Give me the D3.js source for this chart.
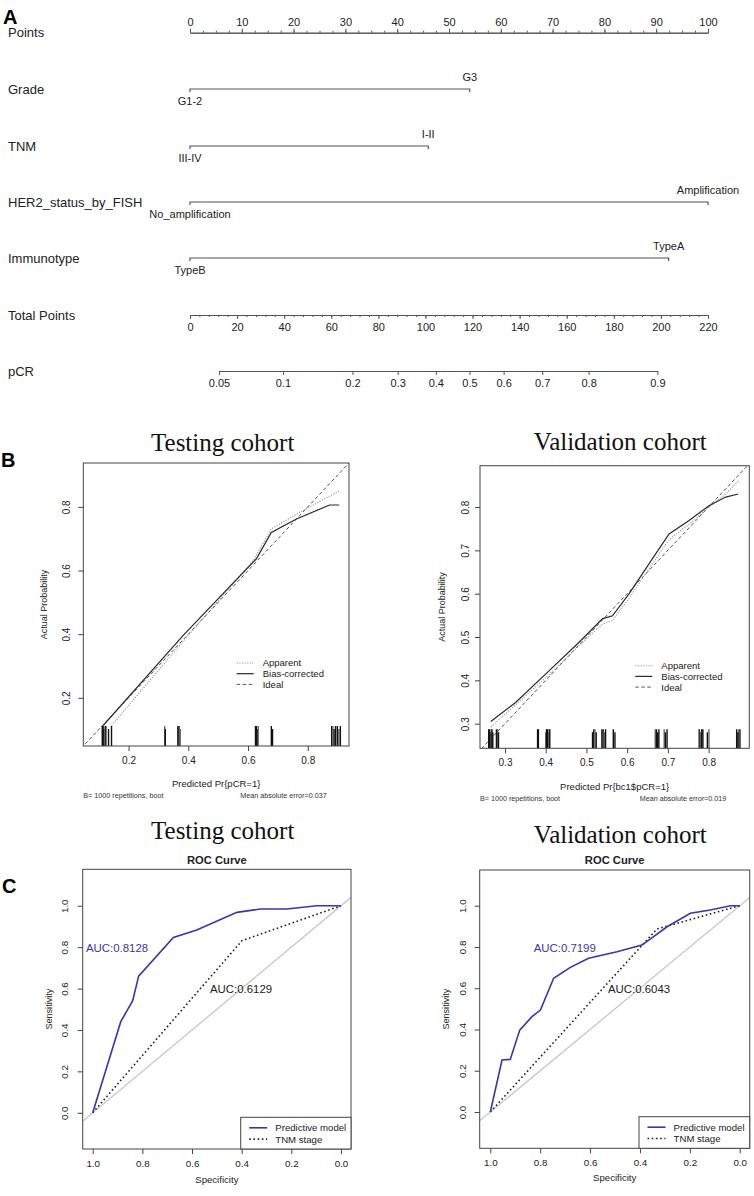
<!DOCTYPE html>
<html>
<head>
<meta charset="utf-8">
<script src="https://cdn.jsdelivr.net/npm/d3@7"></script>
<style>
body { margin: 0; background: #fff; }
svg { display: block; font-family: "Liberation Sans", Arial, sans-serif; }
</style>
</head>
<body>
<svg id="fig" width="754" height="1196"></svg>
<script>
// ---------- A: nomogram ----------
var pointTicks = [0, 10, 20, 30, 40, 50, 60, 70, 80, 90, 100];
var totalTicks = [0, 20, 40, 60, 80, 100, 120, 140, 160, 180, 200, 220];
var pcrTicks = [0.05, 0.1, 0.2, 0.3, 0.4, 0.5, 0.6, 0.7, 0.8, 0.9];
var pcrTotals = [12.3, 39.5, 69.0, 88.2, 104.4, 118.7, 133.2, 149.6, 169.3, 198.5]; // total points of each pCR tick
var nomoVars = ["Grade", "TNM", "HER2_status_by_FISH", "Immunotype"];
var lowLevels = ["G1-2", "III-IV", "No_amplification", "TypeB"];
var highLevels = ["G3", "I-II", "Amplification", "TypeA"];
var highPoints = [54, 46, 100, 92.4];

// ---------- B: calibration ----------
var testRug = [0.112, 0.115, 0.118, 0.121, 0.124, 0.133, 0.143, 0.321, 0.323, 0.365, 0.369, 0.373,
  0.625, 0.628, 0.631, 0.634, 0.678, 0.682, 0.880, 0.884, 0.888, 0.893, 0.899, 0.904, 0.909];
var testApparentX = [0.143, 0.400, 0.617, 0.678, 0.773, 0.907];
var testApparentY = [0.113, 0.396, 0.631, 0.731, 0.783, 0.851];
var testBiasX = [0.115, 0.383, 0.628, 0.678, 0.762, 0.873, 0.905];
var testBiasY = [0.113, 0.396, 0.637, 0.720, 0.762, 0.806, 0.806];

var valRug = [0.260, 0.262, 0.264, 0.266, 0.268, 0.270, 0.279, 0.282, 0.284, 0.380, 0.382,
  0.400, 0.402, 0.404, 0.406, 0.408, 0.410, 0.515, 0.518, 0.521, 0.524, 0.538, 0.541, 0.544, 0.547,
  0.566, 0.570, 0.669, 0.672, 0.675, 0.678, 0.691, 0.694, 0.698, 0.777, 0.780, 0.783, 0.786,
  0.797, 0.801, 0.869, 0.872, 0.875, 0.878];
var valApparentX = [0.265, 0.408, 0.482, 0.539, 0.564, 0.605, 0.670, 0.703, 0.752, 0.801, 0.842, 0.875];
var valApparentY = [0.292, 0.413, 0.480, 0.530, 0.538, 0.590, 0.680, 0.725, 0.760, 0.800, 0.830, 0.862];
var valBiasX = [0.265, 0.326, 0.408, 0.482, 0.539, 0.564, 0.605, 0.670, 0.703, 0.752, 0.801, 0.842, 0.873];
var valBiasY = [0.305, 0.349, 0.422, 0.488, 0.542, 0.549, 0.600, 0.692, 0.738, 0.769, 0.803, 0.823, 0.830];

// ---------- C: ROC ----------
var testModelSpec = [1, 0.887, 0.839, 0.815, 0.675, 0.581, 0.419, 0.325, 0.218, 0.097, 0];
var testModelSens = [0, 0.44, 0.541, 0.66, 0.847, 0.883, 0.968, 0.984, 0.984, 1, 1];
var testTnmSpec = [1, 0.399, 0];
var testTnmSens = [0, 0.831, 1];
var valModelSpec = [1, 0.953, 0.92, 0.882, 0.833, 0.799, 0.746, 0.679, 0.606, 0.492, 0.392, 0.291, 0.198, 0.118, 0.037, 0];
var valModelSens = [0, 0.252, 0.255, 0.397, 0.462, 0.494, 0.648, 0.701, 0.745, 0.777, 0.809, 0.898, 0.963, 0.979, 1, 1];
var valTnmSpec = [1, 0.332, 0];
var valTnmSens = [0, 0.887, 1];

var svg = d3.select("#fig");
var blue = "#3636b4";

// panel letters
svg.selectAll("text.panel")
  .data([["A", 3, 24], ["B", 1, 467], ["C", 2, 893]])
  .enter().append("text")
  .attr("x", function(d) { return d[1]; })
  .attr("y", function(d) { return d[2]; })
  .attr("font-size", 20).attr("font-weight", "bold")
  .text(function(d) { return d[0]; });

// ---------- nomogram ----------
var ptsX = d3.scaleLinear().domain([0, 100]).range([190, 708]);
var totX = d3.scaleLinear().domain([0, 220]).range([190, 708]);
var pcrX = d3.scaleLinear().domain(pcrTicks).range(pcrTotals.map(totX));
var rowY = [32.7, 89, 146, 202, 258, 315, 371];
var rowNames = ["Points"].concat(nomoVars, ["Total Points", "pCR"]);
var nomo = svg.append("g").attr("fill", "#222");

nomo.selectAll("text.row")
  .data(rowNames)
  .enter().append("text")
  .attr("x", 8)
  .attr("y", function(d, i) { return rowY[i] + 4.5; })
  .attr("font-size", 13)
  .text(function(d) { return d; });

function styleAxis(g, fs) {
  g.attr("font-family", null).attr("font-size", fs);
  g.selectAll("path,line").attr("stroke", "#555");
  g.selectAll("text").attr("fill", "#222");
}

nomo.append("g").attr("transform", "translate(0," + rowY[0] + ")")
  .call(d3.axisTop(ptsX).tickValues(d3.range(0, 100.1, 2.5)).tickSize(2).tickSizeOuter(0).tickFormat(""))
  .call(styleAxis, 11);
nomo.append("g").attr("transform", "translate(0," + rowY[0] + ")")
  .call(d3.axisTop(ptsX).tickValues(pointTicks).tickSize(4).tickSizeOuter(0).tickPadding(3))
  .call(styleAxis, 11);

nomoVars.forEach(function(v, i) {
  var y = rowY[i + 1];
  var g = nomo.append("g");
  g.append("path")
    .attr("d", "M" + ptsX(0) + "," + (y + 3) + "V" + y + "H" + ptsX(highPoints[i]) + "V" + (y + 3))
    .attr("fill", "none").attr("stroke", "#555").attr("stroke-width", 1.2);
  g.append("text").attr("x", ptsX(0)).attr("y", y + 16).attr("text-anchor", "middle")
    .attr("font-size", 11).text(lowLevels[i]);
  g.append("text").attr("x", ptsX(highPoints[i])).attr("y", y - 8).attr("text-anchor", "middle")
    .attr("font-size", 11).text(highLevels[i]);
});

nomo.append("g").attr("transform", "translate(0," + rowY[5] + ")")
  .call(d3.axisBottom(totX).tickValues(d3.range(0, 220.1, 4)).tickSize(2).tickSizeOuter(0).tickFormat(""))
  .call(styleAxis, 11);
nomo.append("g").attr("transform", "translate(0," + rowY[5] + ")")
  .call(d3.axisBottom(totX).tickValues(totalTicks).tickSize(4).tickSizeOuter(0).tickPadding(4))
  .call(styleAxis, 11);

nomo.append("g").attr("transform", "translate(0," + rowY[6] + ")")
  .call(d3.axisBottom(pcrX).tickValues(pcrTicks).tickSize(4).tickSizeOuter(0).tickPadding(4)
    .tickFormat(function(d) { return String(d); }))
  .call(styleAxis, 11);

// ---------- helpers for framed R-style plots ----------
function frame(o) {
  var g = svg.append("g");
  var x = d3.scaleLinear().domain(o.xDomain).range([o.left, o.right]);
  var y = d3.scaleLinear().domain(o.yDomain).range([o.bottom, o.top]);
  var id = "clip" + Math.round(o.left) + "_" + Math.round(o.top);
  g.append("clipPath").attr("id", id).append("rect")
    .attr("x", o.left).attr("y", o.top).attr("width", o.right - o.left).attr("height", o.bottom - o.top);

  var ax = g.append("g").attr("transform", "translate(0," + o.bottom + ")")
    .call(d3.axisBottom(x).tickValues(o.xTicks).tickSize(5).tickSizeOuter(0).tickPadding(6)
      .tickFormat(d3.format(".1f")));
  ax.select(".domain").remove();
  ax.attr("font-family", null).attr("font-size", o.tickFs);
  ax.selectAll("line").attr("stroke", "#444");
  ax.selectAll("text").attr("fill", "#222").attr("dy", "0.71em");

  var ay = g.append("g").attr("transform", "translate(" + o.left + ",0)")
    .call(d3.axisLeft(y).tickValues(o.yTicks).tickSize(5).tickSizeOuter(0)
      .tickFormat(d3.format(".1f")));
  ay.select(".domain").remove();
  ay.attr("font-family", null).attr("font-size", o.tickFs);
  ay.selectAll("line").attr("stroke", "#444");
  ay.selectAll("text").attr("fill", "#222")
    .attr("x", 0).attr("y", -(o.left - o.yLabX)).attr("dy", "0.35em")
    .attr("text-anchor", "middle").attr("transform", "rotate(-90)");

  g.append("text").attr("x", o.titleX).attr("y", o.titleY).attr("text-anchor", "middle")
    .attr("font-family", "'Liberation Serif', 'Times New Roman', serif").attr("font-size", 25)
    .attr("fill", "#111").text(o.title);

  g.append("text").attr("x", (o.left + o.right) / 2).attr("y", o.xTitleY).attr("text-anchor", "middle")
    .attr("font-size", o.axisFs).attr("fill", "#222").text(o.xTitle);
  g.append("text").attr("transform", "translate(" + o.yTitleX + "," + (o.top + o.bottom) / 2 + ") rotate(-90)")
    .attr("text-anchor", "middle").attr("font-size", o.axisFs - 0.5).attr("fill", "#222").text(o.yTitle);

  var inner = g.append("g").attr("clip-path", "url(#" + id + ")");
  return { g: g, inner: inner, x: x, y: y, o: o };
}

function drawBox(f) {
  var o = f.o;
  f.g.append("rect").attr("x", o.left).attr("y", o.top)
    .attr("width", o.right - o.left).attr("height", o.bottom - o.top)
    .attr("fill", "none").attr("stroke", "#444").attr("stroke-width", 1);
}

function pairs(xs, ys) { return xs.map(function(v, i) { return [v, ys[i]]; }); }

// ---------- calibration ----------
function calibration(o) {
  var f = frame(o);
  var x = f.x, y = f.y;
  var line = d3.line().x(function(d) { return x(d[0]); }).y(function(d) { return y(d[1]); });

  f.inner.append("path").datum([[0, 0], [1, 1]]).attr("d", line)
    .attr("fill", "none").attr("stroke", "#555").attr("stroke-width", 1).attr("stroke-dasharray", "3.5,2.5");
  f.inner.append("path").datum(pairs(o.appX, o.appY)).attr("d", line)
    .attr("fill", "none").attr("stroke", "#9a9a9a").attr("stroke-width", 1.1).attr("stroke-dasharray", "1.2,1.4");
  f.inner.append("path").datum(pairs(o.biasX, o.biasY)).attr("d", line)
    .attr("fill", "none").attr("stroke", "#2a2a2a").attr("stroke-width", 1.2);

  f.inner.selectAll("line.rug").data(o.rug).enter().append("line")
    .attr("x1", function(d) { return x(d); }).attr("x2", function(d) { return x(d); })
    .attr("y1", o.bottom).attr("y2", function(d, i) { return o.bottom - o.rugH + (i % 3 === 2 ? 3 : 0); })
    .attr("stroke", function(d, i) { return i % 4 === 3 ? "#666" : "#111"; }).attr("stroke-width", 1.4);

  drawBox(f);

  var legItems = [["Apparent", "#9a9a9a", "1.2,1.4", 1.1], ["Bias-corrected", "#2a2a2a", null, 1.2], ["Ideal", "#555", "3.5,2.5", 1]];
  var leg = f.g.append("g");
  legItems.forEach(function(d, i) {
    var yy = o.legY + i * 10.7;
    leg.append("line").attr("x1", o.legX).attr("x2", o.legX + 17).attr("y1", yy).attr("y2", yy)
      .attr("stroke", d[1]).attr("stroke-width", d[3]).attr("stroke-dasharray", d[2]);
    leg.append("text").attr("x", o.legX + 26).attr("y", yy + 3.4).attr("font-size", 9.5)
      .attr("fill", "#222").text(d[0]);
  });

  f.g.append("text").attr("x", o.left).attr("y", o.subY).attr("font-size", 7.2).attr("fill", "#333")
    .text("B= 1000 repetitions, boot");
  f.g.append("text").attr("x", o.subEnd).attr("y", o.subY).attr("text-anchor", "end")
    .attr("font-size", 7.2).attr("fill", "#333").text(o.mae);
}

calibration({
  left: 83.3, right: 349, top: 463, bottom: 746,
  xDomain: [0.0485, 0.938], yDomain: [0.0485, 0.938],
  xTicks: [0.2, 0.4, 0.6, 0.8], yTicks: [0.2, 0.4, 0.6, 0.8],
  tickFs: 10, axisFs: 9.5, yLabX: 66.7,
  title: "Testing cohort", titleX: 222.7, titleY: 451,
  xTitle: "Predicted Pr{pCR=1}", xTitleY: 786.5, yTitle: "Actual Probability", yTitleX: 46.5,
  appX: testApparentX, appY: testApparentY, biasX: testBiasX, biasY: testBiasY,
  rug: testRug, rugH: 20,
  legX: 236.7, legY: 663, subY: 797.5, subEnd: 326.7, mae: "Mean absolute error=0.037"
});

calibration({
  left: 480, right: 749.3, top: 465.7, bottom: 748.3,
  xDomain: [0.2386, 0.900], yDomain: [0.2432, 0.8954],
  xTicks: [0.3, 0.4, 0.5, 0.6, 0.7, 0.8], yTicks: [0.3, 0.4, 0.5, 0.6, 0.7, 0.8],
  tickFs: 10, axisFs: 9.5, yLabX: 465.3,
  title: "Validation cohort", titleX: 620.3, titleY: 450,
  xTitle: "Predicted Pr{bc1$pCR=1}", xTitleY: 790, yTitle: "Actual Probability", yTitleX: 444.5,
  appX: valApparentX, appY: valApparentY, biasX: valBiasX, biasY: valBiasY,
  rug: valRug, rugH: 19,
  legX: 635.3, legY: 665.7, subY: 800.5, subEnd: 726.3, mae: "Mean absolute error=0.019"
});

// ---------- ROC ----------
function roc(o) {
  var f = frame(o);
  var x = f.x, y = f.y;
  var line = d3.line().x(function(d) { return x(d[0]); }).y(function(d) { return y(d[1]); });

  f.inner.append("path").datum([[1.2, -0.2], [-0.2, 1.2]]).attr("d", line)
    .attr("fill", "none").attr("stroke", "#c4c4c4").attr("stroke-width", 1.2);
  f.inner.append("path").datum(pairs(o.tnmSpec, o.tnmSens)).attr("d", line)
    .attr("fill", "none").attr("stroke", "#222").attr("stroke-width", 1.6).attr("stroke-dasharray", "1.6,2.6");
  f.inner.append("path").datum(pairs(o.modelSpec, o.modelSens)).attr("d", line)
    .attr("fill", "none").attr("stroke", blue).attr("stroke-width", 1.6);

  drawBox(f);

  f.g.append("text").attr("x", (o.left + o.right) / 2).attr("y", o.rocY).attr("text-anchor", "middle")
    .attr("font-size", 11.2).attr("font-weight", "bold").attr("fill", "#222").text("ROC Curve");

  f.g.append("text").attr("x", o.auc1X).attr("y", o.auc1Y).attr("font-size", 11.4)
    .attr("fill", blue).text(o.auc1);
  f.g.append("text").attr("x", o.auc2X).attr("y", o.auc2Y).attr("font-size", 11.4)
    .attr("fill", "#222").text(o.auc2);

  var lg = f.g.append("g");
  lg.append("rect").attr("x", o.legLeft).attr("y", o.legTop)
    .attr("width", o.right - o.legLeft).attr("height", o.bottom - o.legTop)
    .attr("fill", "#fff").attr("stroke", "#444").attr("stroke-width", 1);
  [["Predictive model", blue, null], ["TNM stage", "#222", "1.6,2.6"]].forEach(function(d, i) {
    var yy = o.legTop + 10.5 + i * 11.3;
    lg.append("line").attr("x1", o.legLeft + 8.5).attr("x2", o.legLeft + 26.5).attr("y1", yy).attr("y2", yy)
      .attr("stroke", d[1]).attr("stroke-width", 1.6).attr("stroke-dasharray", d[2]);
    lg.append("text").attr("x", o.legLeft + 34.6).attr("y", yy + 3.4).attr("font-size", 9.6)
      .attr("fill", "#222").text(d[0]);
  });
}

var rocTicks = [1.0, 0.8, 0.6, 0.4, 0.2, 0.0];
var rocYTicks = [0.0, 0.2, 0.4, 0.6, 0.8, 1.0];

roc({
  left: 82.7, right: 351, top: 869.3, bottom: 1149,
  xDomain: [1.0403, -0.0403], yDomain: [-0.175, 1.176],
  xTicks: rocTicks, yTicks: rocYTicks,
  tickFs: 9.8, axisFs: 9.6, yLabX: 65,
  title: "Testing cohort", titleX: 222.7, titleY: 838.5,
  xTitle: "Specificity", xTitleY: 1182.5, yTitle: "Sensitivity", yTitleX: 51.5,
  rocY: 863.5,
  modelSpec: testModelSpec, modelSens: testModelSens, tnmSpec: testTnmSpec, tnmSens: testTnmSens,
  auc1: "AUC:0.8128", auc1X: 86, auc1Y: 951.5, auc2: "AUC:0.6129", auc2X: 210, auc2Y: 993,
  legLeft: 240.7, legTop: 1117.3
});

roc({
  left: 479.7, right: 749.7, top: 870, bottom: 1148.3,
  xDomain: [1.0425, -0.0401], yDomain: [-0.176, 1.173],
  xTicks: rocTicks, yTicks: rocYTicks,
  tickFs: 9.8, axisFs: 9.6, yLabX: 463,
  title: "Validation cohort", titleX: 620.3, titleY: 842.5,
  xTitle: "Specificity", xTitleY: 1181, yTitle: "Sensitivity", yTitleX: 448.5,
  rocY: 864,
  modelSpec: valModelSpec, modelSens: valModelSens, tnmSpec: valTnmSpec, tnmSens: valTnmSens,
  auc1: "AUC:0.7199", auc1X: 533.7, auc1Y: 951.5, auc2: "AUC:0.6043", auc2X: 608, auc2Y: 993,
  legLeft: 639, legTop: 1116.7
});
</script>
</body>
</html>
